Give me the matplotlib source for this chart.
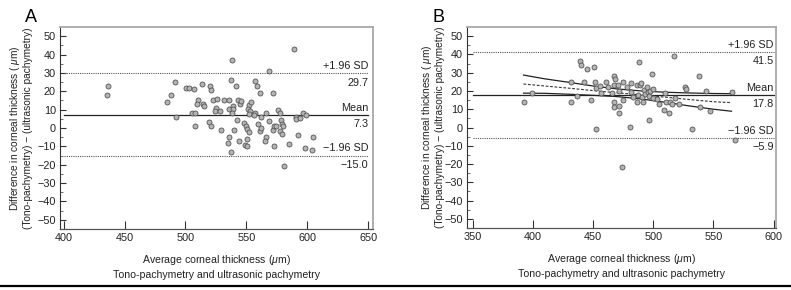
import matplotlib
matplotlib.use("Agg")
import matplotlib.pyplot as plt
from matplotlib.lines import Line2D
import numpy as np

plt.rcParams['font.family'] = ['Liberation Sans', 'DejaVu Sans']
plt.rcParams['mathtext.fontset'] = 'custom'
plt.rcParams['mathtext.rm'] = 'Liberation Sans'
plt.rcParams['mathtext.it'] = 'Liberation Sans:italic'

# ---- panel A : tono-pachymetry vs ultrasonic pachymetry ----
a_x = [436.1, 435.6, 484.9, 488.2, 491.7, 492.3, 500.2, 503.2, 506.8, 505.5,
       508.2, 507.7, 510.2, 509.6, 513.4, 514.5, 515.3, 519.9, 520.8, 519.7,
       520.8, 522.7, 525.2, 526.3, 524.3, 528.0, 528.8, 531.8, 535.4, 536.1,
       538.3, 537.5, 538.8, 538.8, 538.3, 535.9, 534.7, 537.5, 539.5, 541.3,
       542.1, 543.5, 544.6, 545.7, 544.3, 548.1, 549.2, 550.3, 549.4, 550.5,
       551.8, 551.0, 551.8, 550.7, 553.9, 553.3, 552.5, 557.5, 558.9, 557.2,
       556.1, 559.9, 561.5, 561.8, 561.0, 562.1, 566.5, 568.4, 568.7, 566.2,
       565.7, 571.5, 571.7, 573.1, 574.7, 573.1, 576.1, 577.4, 577.4, 578.8,
       579.6, 579.9, 579.4, 581.0, 585.1, 589.5, 591.1, 591.1, 592.7, 594.4,
       596.6, 599.3, 598.5, 603.7, 604.5]
a_y = [22.9, 17.8, 14.0, 17.8, 25.1, 6.0, 21.8, 22.0, 21.1, 8.2,
       8.2, 1.1, 15.1, 13.1, 24.0, 13.1, 11.8, 22.9, 20.9, 3.1,
       1.1, 15.1, 11.1, 16.0, 9.5, 9.1, -1.1, 15.3, 15.3, 10.2,
       36.9, 26.0, 12.0, 10.2, 8.2, -4.9, -8.0, -13.1, -0.9, 22.7,
       4.4, 15.3, 13.3, 14.9, -7.1, 2.9, -9.1, -9.8, 0.9, -0.4,
       12.7, 10.5, -2.2, -6.0, 14.2, 9.1, 7.5, 25.5, 22.9, 8.4,
       6.9, 2.4, 19.1, 6.0, -1.5, -0.2, 8.2, 30.9, 4.0, -4.9,
       -7.1, 19.1, -1.3, 0.9, 0.9, -10.0, 10.0, 8.2, -1.5, 4.2,
       2.4, 0.9, -3.1, -20.9, -8.9, 42.9, 6.0, 5.1, -4.0, 5.3,
       8.0, 7.3, -10.9, -12.2, -4.9]
a_mean, a_upper, a_lower = 7.3, 29.7, -15.0

# ---- panel B ----
b_x = [392.4, 398.7, 431.1, 431.4, 436.9, 439.1, 440.2, 442.7, 445.2, 448.0,
       450.8, 451.3, 452.2, 452.7, 455.7, 456.3, 461.0, 462.4, 465.7, 467.1,
       467.6, 468.5, 467.1, 467.1, 470.8, 471.6, 471.8, 471.8, 474.9, 474.9,
       474.3, 478.2, 480.4, 481.2, 481.8, 482.9, 486.5, 487.4, 486.8, 488.2,
       489.3, 490.1, 490.6, 491.2, 492.0, 493.4, 494.8, 495.6, 496.5, 497.6,
       496.2, 498.9, 499.4, 499.7, 503.0, 504.4, 508.6, 510.0, 510.8, 513.0,
       514.1, 515.2, 517.2, 518.3, 521.0, 526.6, 527.5, 532.4, 538.3, 539.1,
       543.5, 546.8, 565.1, 567.9]
b_y = [14.2, 19.1, 25.1, 13.8, 17.3, 36.2, 34.2, 25.1, 32.0, 15.3,
       33.3, 25.1, 21.8, -0.9, 22.9, 19.1, 25.1, 22.4, 18.7, 23.3,
       28.2, 26.4, 14.0, 11.1, 23.3, 20.2, 12.0, 8.2, 25.1, 15.1,
       -21.8, 22.0, 0.2, 24.2, 19.6, 16.5, 23.3, 17.6, 14.2, 36.0,
       23.1, 24.2, 16.5, 14.2, 20.5, 18.4, 22.4, 19.3, 17.5, 20.2,
       4.2, 29.3, 21.1, 16.0, 15.5, 12.9, 9.6, 18.7, 14.2, 8.2,
       14.2, 12.7, 39.1, 16.0, 12.7, 22.4, 20.9, -0.9, 28.2, 11.1,
       20.0, 9.1, 19.3, -6.9]
b_mean, b_upper, b_lower = 17.8, 41.5, -5.9

# regression line and its confidence band
band_x = [392, 410, 430, 450, 470, 490, 510, 530, 550, 565]
band_fit = [23.8, 22.7, 21.5, 20.2, 19.0, 17.8, 16.6, 15.3, 14.1, 13.6]
band_hi = [28.7, 26.6, 24.7, 22.7, 21.1, 20.0, 19.3, 18.9, 18.6, 18.5]
band_lo = [18.8, 18.7, 18.2, 17.6, 16.9, 15.6, 13.8, 11.8, 10.0, 8.9]

DOT = '#555555'
FRAME = '#a8a8a8'
TXT = '#222222'
FS = 7.8


def draw_panel(ax, xs, ys, mean, up, lo, xticks, xlim, label_off):
    ax.scatter(xs, ys, s=13, facecolor='#b4b4b4', edgecolor='#555555',
               linewidth=0.6, zorder=3)
    x0, x1 = xticks[0], xticks[-1]
    ax.plot([x0, x1], [mean, mean], color='#222222', lw=0.9, zorder=2)
    for v in (up, lo):
        ax.plot([x0, x1], [v, v], color=DOT, lw=0.8, ls=(0, (1, 1)), zorder=2)
    pairs = [(up, '+1.96 SD', '%.1f' % up), (mean, 'Mean', '%.1f' % mean),
             (lo, '\u22121.96 SD', ('%.1f' % lo).replace('-', '\u2212'))]
    for v, top, bottom in pairs:
        ax.annotate(top, (x1, v), xytext=(0, 1.5), textcoords='offset points',
                    ha='right', va='bottom', fontsize=FS, color=TXT)
        ax.annotate(bottom, (x1, v), xytext=(0, -3), textcoords='offset points',
                    ha='right', va='top', fontsize=FS, color=TXT)

    ax.set_xlim(*xlim)
    ax.set_ylim(-55, 55)
    ax.set_xticks(xticks)
    ax.set_yticks(np.arange(-50, 51, 10))
    ax.set_yticks(np.arange(-50, 51, 5), minor=True)
    ax.tick_params(axis='x', direction='in', length=6, width=0.8,
                   labelsize=FS, pad=3, color='#333333', labelcolor=TXT)
    ax.tick_params(axis='y', which='major', direction='in', length=4.5,
                   width=0.8, labelsize=FS, pad=3, color='#333333',
                   labelcolor=TXT)
    ax.tick_params(axis='y', which='minor', direction='in', length=2.5,
                   width=0.6, color='#555555')
    ax.tick_params(top=False, right=False)
    for side in ('top', 'right'):
        ax.spines[side].set_color(FRAME)
        ax.spines[side].set_linewidth(1.3)
    ax.spines['left'].set_color('#333333')
    ax.spines['left'].set_linewidth(0.8)
    ax.spines['bottom'].set_color('#555555')
    ax.spines['bottom'].set_linewidth(0.9)

    ax.set_xlabel('Average corneal thickness ($\\mathit{\u03bc}$m)\n'
                  'Tono-pachymetry and ultrasonic pachymetry',
                  fontsize=7.6, labelpad=7, linespacing=1.45, color=TXT)
    ax.set_ylabel('Difference in corneal thickness ( $\\mathit{\u03bc}$m)\n'
                  '(Tono-pachymetry) \u2212 (ultrasonic pachymetry)',
                  fontsize=7.3, linespacing=1.15, color=TXT)
    ax.yaxis.set_label_coords(label_off, 0.5)


fig = plt.figure(figsize=(7.91, 2.90), dpi=100)
ax_a = fig.add_axes([60 / 791, 61 / 290, 313 / 791, 202 / 290])
ax_b = fig.add_axes([467 / 791, 62 / 290, 309 / 791, 201 / 290])

draw_panel(ax_a, a_x, a_y, a_mean, a_upper, a_lower,
           [400, 450, 500, 550, 600, 650], (397, 654), -27 / 313)
draw_panel(ax_b, b_x, b_y, b_mean, b_upper, b_lower,
           [350, 400, 450, 500, 550, 600], (345, 602), -22 / 309)

ax_b.plot(band_x, band_fit, color='#333333', lw=0.8, ls=(0, (2.5, 1.5)), zorder=2)
ax_b.plot(band_x, band_hi, color='#222222', lw=0.9, zorder=2)
ax_b.plot(band_x, band_lo, color='#222222', lw=0.9, zorder=2)

fig.text(25 / 791, 1 - 22 / 290, 'A', fontsize=13, ha='left', va='baseline')
fig.text(432 / 791, 1 - 22 / 290, 'B', fontsize=13, ha='left', va='baseline')

# rule under the figure
fig.add_artist(Line2D([0, 1], [1 - 286 / 290] * 2, color='black', lw=1.6,
                      transform=fig.transFigure))

fig.savefig('out.png', dpi=100)
